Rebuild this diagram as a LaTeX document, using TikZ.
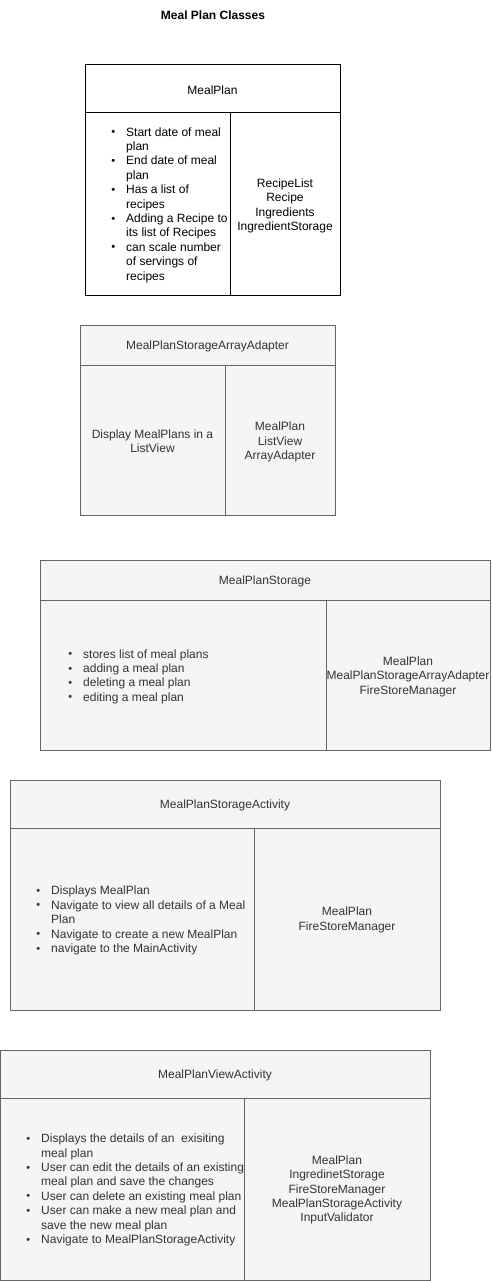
\documentclass[tikz,border=0pt]{standalone}
\usepackage{fontspec}
\setmainfont{Liberation Sans}
\definecolor{cellfill}{HTML}{F5F5F5}
\definecolor{cellline}{HTML}{666666}
\definecolor{celltext}{HTML}{333333}
% bullet line and continuation line
\newcommand{\bul}{\makebox[15pt][l]{\hspace{0.2pt}\raisebox{0.4pt}{\fontsize{11}{11}\selectfont\textbullet}}}
\newcommand{\cont}{\hspace*{15pt}}

\begin{document}
\begin{tikzpicture}[x=1pt,y=-1pt,
  every node/.style={font=\fontsize{12}{14.4}\selectfont,inner sep=0pt},
  frame/.style={draw=cellline,fill=cellfill,line width=1pt},
  plainframe/.style={draw=black,fill=white,line width=1pt},
  clsname/.style={text=celltext,align=center},
  resp/.style={text=celltext,align=left,anchor=west},
  collab/.style={text=celltext,align=center}]
  \useasboundingbox (0,0) rectangle (491,1281);

  % Title
  \node[font=\bfseries\fontsize{12}{14.4}\selectfont] (title) at (213,15.5) {Meal Plan Classes};

  % MealPlan box
  \draw[plainframe] (85,65) rectangle (340,113);
  \draw[plainframe] (85,113) rectangle (230,295);
  \draw[plainframe] (230,113) rectangle (340,295);

  % Grey boxes: left/top/right/bottom/header/divider
  \foreach \l/\t/\r/\b/\h/\d in {80/325/335/515/365/225, 40/560/490/750/600/326,
      10/780/440/1010/828/254, 0.5/1050/430/1280/1098/244} {
    \draw[frame] (\l,\t) rectangle (\r,\h);
    \draw[frame] (\l,\h) rectangle (\d,\b);
    \draw[frame] (\d,\h) rectangle (\r,\b);
  }

  % MealPlan
  \node[align=center] (mp-name) at (212.5,90) {MealPlan};
  \node[align=left,anchor=west] (mp-resp) at (111,205) {\bul Start date of meal\\ \cont plan\\
    \bul End date of meal\\ \cont plan\\ \bul Has a list of\\ \cont recipes\\
    \bul Adding a Recipe to\\ \cont its list of Recipes\\ \bul can scale number\\
    \cont of servings of\\ \cont recipes};
  \node[align=center] (mp-collab) at (285,206) {RecipeList\\Recipe\\Ingredients\\IngredientStorage};

  % MealPlanStorageArrayAdapter
  \node[clsname] (adapter-name) at (207.5,346) {MealPlanStorageArrayAdapter};
  \node[collab] (adapter-resp) at (152.5,441) {Display MealPlans in a\\ListView};
  \node[collab] (adapter-collab) at (280,442) {MealPlan\\ListView\\ArrayAdapter};

  % MealPlanStorage
  \node[clsname] (storage-name) at (265,581.5) {MealPlanStorage};
  \node[resp] (storage-resp) at (68,676.5) {\bul stores list of meal plans\\ \bul adding a meal plan\\
    \bul deleting a meal plan\\ \bul editing a meal plan};
  \node[collab] (storage-collab) at (408,676.5) {MealPlan\\MealPlanStorageArrayAdapter\\FireStoreManager};

  % MealPlanStorageActivity
  \node[clsname] (stact-name) at (225,805) {MealPlanStorageActivity};
  \node[resp] (stact-resp) at (36,920.5) {\bul Displays MealPlan\\
    \bul Navigate to view all details of a Meal\\ \cont Plan\\
    \bul Navigate to create a new MealPlan\\ \bul navigate to the MainActivity};
  \node[collab] (stact-collab) at (347,920) {MealPlan\\FireStoreManager};

  % MealPlanViewActivity
  \node[clsname] (view-name) at (215,1075) {MealPlanViewActivity};
  \node[resp] (view-resp) at (26,1190) {\bul Displays the details of an~ exisiting\\ \cont meal plan\\
    \bul User can edit the details of an existing\\ \cont meal plan and save the changes\\
    \bul User can delete an existing meal plan\\
    \bul User can make a new meal plan and\\ \cont save the new meal plan\\
    \bul Navigate to MealPlanStorageActivity};
  \node[collab] (view-collab) at (337,1190) {MealPlan\\IngredinetStorage\\FireStoreManager\\MealPlanStorageActivity\\InputValidator};
\end{tikzpicture}
\end{document}
